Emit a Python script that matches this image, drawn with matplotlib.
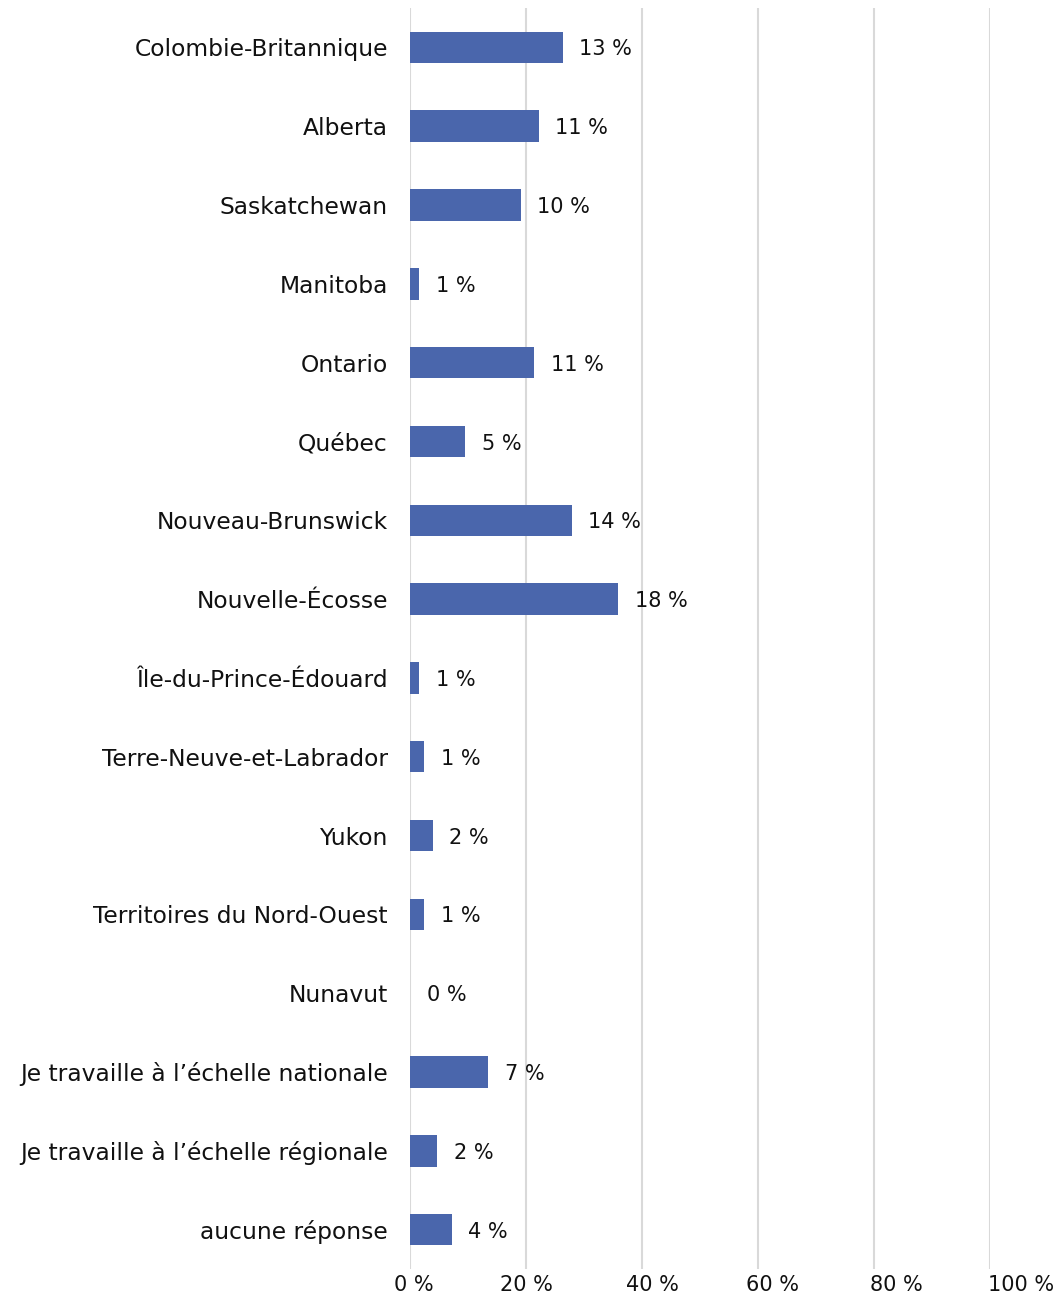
import matplotlib
matplotlib.use("Agg")
import matplotlib.pyplot as plt
from matplotlib.transforms import ScaledTranslation

categories = [
    "Colombie-Britannique", "Alberta", "Saskatchewan", "Manitoba", "Ontario",
    "Québec", "Nouveau-Brunswick", "Nouvelle-Écosse", "Île-du-Prince-Édouard",
    "Terre-Neuve-et-Labrador", "Yukon", "Territoires du Nord-Ouest", "Nunavut",
    "Je travaille à l’échelle nationale", "Je travaille à l’échelle régionale",
    "aucune réponse",
]
# bar lengths as drawn on the chart's axis (percent scale)
bar_lengths = [26.3, 22.2, 19.1, 1.6, 21.4, 9.5, 27.9, 35.9, 1.6, 2.4, 3.9, 2.4,
               0.0, 13.5, 4.7, 7.2]
# data labels printed next to the bars
bar_labels = ["13 %", "11 %", "10 %", "1 %", "11 %", "5 %", "14 %", "18 %",
              "1 %", "1 %", "2 %", "1 %", "0 %", "7 %", "2 %", "4 %"]
x_ticks = [0, 20, 40, 60, 80, 100]
x_tick_labels = ["0 %", "20 %", "40 %", "60 %", "80 %", "100 %"]

plt.rcParams["font.family"] = ["DejaVu Sans"]
fig = plt.figure(figsize=(10.64, 12.97), dpi=100)
ax = fig.add_axes([410 / 1064, 1 - 1269 / 1297, 580 / 1064, 1261 / 1297])

y = list(range(len(categories)))
ax.barh(y, bar_lengths, height=0.4, color="#4A66AC", linewidth=0, zorder=3)
for yi, v, lab in zip(y, bar_lengths, bar_labels):
    ax.annotate(lab, (v, yi), xytext=(12, -1.5), textcoords="offset points",
                va="center", ha="left", fontsize=15, color="#111111")

ax.set_ylim(len(categories) - 0.5, -0.5)
ax.set_xlim(0, 100)
ax.set_yticks(y)
ax.set_yticklabels(categories, fontsize=16.8, color="#111111")
ax.set_xticks(x_ticks)
ax.set_xticklabels(x_tick_labels, fontsize=15, color="#111111")
ax.tick_params(axis="both", length=0)
ax.tick_params(axis="y", pad=16)
ax.tick_params(axis="x", pad=4)
ax.grid(axis="x", color="#d9d9d9", linewidth=1.5, zorder=0)
for s in ax.spines.values():
    s.set_visible(False)

# the reference's axis labels drift slightly right of their gridlines
shifts_px = [4, 0, 10, 14, 22, 31]
for lbl, dx in zip(ax.get_xticklabels(), shifts_px):
    lbl.set_transform(lbl.get_transform() + ScaledTranslation(dx / 100, 0, fig.dpi_scale_trans))

fig.savefig("out.png", dpi=100)
